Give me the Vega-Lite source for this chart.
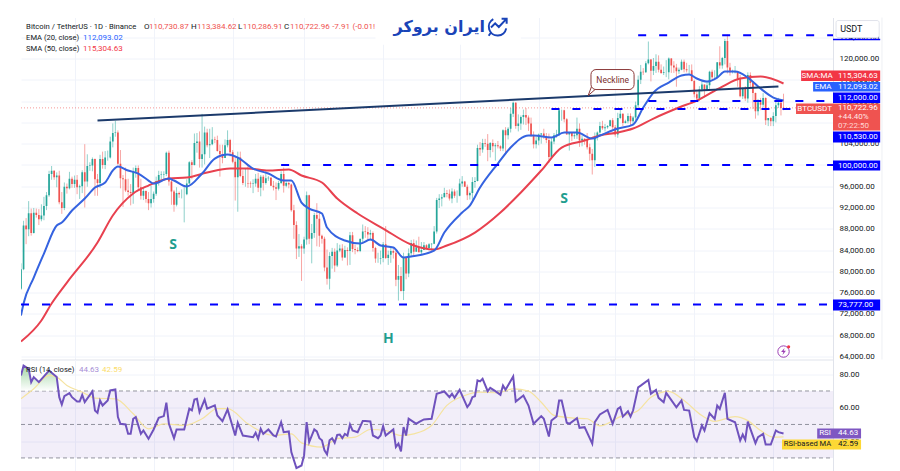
{
"$schema":"https://vega.github.io/schema/vega-lite/v6.json",
"padding":{"left":20,"top":14.5,"right":0,"bottom":0},
"background":"white",
"spacing":0,
"bounds":"flush",
"config":{"view":{"stroke":null},"text":{"font":"Roboto","fontSize":8,"align":"left","baseline":"middle","color":"#131722"},"axis":{"labelFont":"Roboto","labelFontSize":8,"labelColor":"#131722","gridColor":"#f0f3fa","domainColor":"#e0e3eb","ticks":false,"title":null}},
"datasets":{
"candles":[
{"d":0,"o":76700,"h":81500,"l":76500,"c":80400},{"d":1,"o":80400,"h":89500,"l":80200,"c":88600},{"d":2,"o":88600,"h":90000,"l":85100,"c":87900},{"d":3,"o":87900,"h":93200,"l":86600,"c":90900},{"d":4,"o":90900,"h":91800,"l":86700,"c":87200},{"d":5,"o":87200,"h":91900,"l":87100,"c":91000},{"d":6,"o":91000,"h":91800,"l":90100,"c":90600},{"d":7,"o":90600,"h":91700,"l":88700,"c":89800},{"d":8,"o":89800,"h":92600,"l":89400,"c":90500},{"d":9,"o":90500,"h":94000,"l":89600,"c":92300},
{"d":10,"o":92300,"h":94900,"l":91500,"c":94300},{"d":11,"o":94300,"h":98900,"l":94000,"c":98300},{"d":12,"o":98300,"h":99800,"l":97200,"c":98900},{"d":13,"o":98900,"h":99000,"l":97200,"c":97700},{"d":14,"o":97700,"h":98600,"l":95800,"c":98000},{"d":15,"o":98000,"h":98900,"l":92600,"c":93000},{"d":16,"o":93000,"h":94900,"l":90800,"c":91900},{"d":17,"o":91900,"h":96700,"l":91500,"c":95900},{"d":18,"o":95900,"h":96500,"l":94600,"c":95600},{"d":19,"o":95600,"h":98700,"l":95400,"c":97400},
{"d":20,"o":97400,"h":97800,"l":95700,"c":96400},{"d":21,"o":96400,"h":98000,"l":95700,"c":97200},{"d":22,"o":97200,"h":98100,"l":94500,"c":95800},{"d":23,"o":95800,"h":96300,"l":93600,"c":96000},{"d":24,"o":96000,"h":99000,"l":94700,"c":98600},{"d":25,"o":98600,"h":103900,"l":92000,"c":96900},{"d":26,"o":96900,"h":102000,"l":95900,"c":99800},{"d":27,"o":99800,"h":100500,"l":98900,"c":99900},{"d":28,"o":99900,"h":101400,"l":98800,"c":101100},{"d":29,"o":101100,"h":101200,"l":94200,"c":97300},
{"d":30,"o":97300,"h":98300,"l":94200,"c":96600},{"d":31,"o":96600,"h":101900,"l":95700,"c":101100},{"d":32,"o":101100,"h":102500,"l":99300,"c":100000},{"d":33,"o":100000,"h":102600,"l":99200,"c":101400},{"d":34,"o":101400,"h":102700,"l":100800,"c":101400},{"d":35,"o":101400,"h":105300,"l":101200,"c":104400},{"d":36,"o":104400,"h":107800,"l":103300,"c":106000},{"d":37,"o":106000,"h":108300,"l":105300,"c":106100},{"d":38,"o":106100,"h":106500,"l":100000,"c":100200},{"d":39,"o":100200,"h":102800,"l":95600,"c":97500},
{"d":40,"o":97500,"h":98100,"l":92100,"c":97300},{"d":41,"o":97300,"h":99500,"l":94900,"c":95200},{"d":42,"o":95200,"h":97400,"l":94200,"c":94900},{"d":43,"o":94900,"h":96400,"l":92400,"c":94700},{"d":44,"o":94700,"h":99500,"l":92700,"c":98700},{"d":45,"o":98700,"h":99900,"l":97600,"c":99400},{"d":46,"o":99400,"h":99900,"l":95100,"c":95800},{"d":47,"o":95800,"h":97400,"l":93500,"c":94200},{"d":48,"o":94200,"h":95700,"l":93400,"c":95100},{"d":49,"o":95100,"h":95200,"l":92900,"c":93600},
{"d":50,"o":93600,"h":94900,"l":91500,"c":92800},{"d":51,"o":92800,"h":96100,"l":92000,"c":93600},{"d":52,"o":93600,"h":95000,"l":92900,"c":94600},{"d":53,"o":94600,"h":97800,"l":94200,"c":97000},{"d":54,"o":97000,"h":98900,"l":96100,"c":98100},{"d":55,"o":98100,"h":98800,"l":97300,"c":98200},{"d":56,"o":98200,"h":98800,"l":97200,"c":98300},{"d":57,"o":98300,"h":102500,"l":97900,"c":102300},{"d":58,"o":102300,"h":102700,"l":96100,"c":96900},{"d":59,"o":96900,"h":97300,"l":92500,"c":95000},
{"d":60,"o":95000,"h":95300,"l":91200,"c":92500},{"d":61,"o":92500,"h":95800,"l":92200,"c":94700},{"d":62,"o":94700,"h":95000,"l":93800,"c":94500},{"d":63,"o":94500,"h":95400,"l":93700,"c":94500},{"d":64,"o":94500,"h":95900,"l":89200,"c":94500},{"d":65,"o":94500,"h":97300,"l":94300,"c":96500},{"d":66,"o":96500,"h":100700,"l":96500,"c":100500},{"d":67,"o":100500,"h":100900,"l":97300,"c":100000},{"d":68,"o":100000,"h":105900,"l":99900,"c":104100},{"d":69,"o":104100,"h":106000,"l":102300,"c":104400},
{"d":70,"o":104400,"h":106300,"l":99500,"c":101100},{"d":71,"o":101100,"h":109600,"l":99500,"c":102000},{"d":72,"o":102000,"h":107200,"l":100100,"c":106100},{"d":73,"o":106100,"h":106800,"l":103300,"c":103700},{"d":74,"o":103700,"h":106800,"l":101300,"c":103900},{"d":75,"o":103900,"h":107100,"l":103700,"c":104800},{"d":76,"o":104800,"h":105300,"l":104100,"c":104700},{"d":77,"o":104700,"h":105500,"l":102500,"c":102600},{"d":78,"o":102600,"h":103800,"l":97800,"c":102000},{"d":79,"o":102000,"h":103800,"l":100300,"c":101300},
{"d":80,"o":101300,"h":104800,"l":101300,"c":103700},{"d":81,"o":103700,"h":106500,"l":103300,"c":104700},{"d":82,"o":104700,"h":104900,"l":101600,"c":102400},{"d":83,"o":102400,"h":102800,"l":100300,"c":100600},{"d":84,"o":100600,"h":101500,"l":93300,"c":97700},{"d":85,"o":97700,"h":102500,"l":91200,"c":101400},{"d":86,"o":101400,"h":102500,"l":97700,"c":97900},{"d":87,"o":97900,"h":99000,"l":96200,"c":96600},{"d":88,"o":96600,"h":99300,"l":95900,"c":96600},{"d":89,"o":96600,"h":100100,"l":95700,"c":96500},
{"d":90,"o":96500,"h":96900,"l":95700,"c":96400},{"d":91,"o":96400,"h":97300,"l":94700,"c":96500},{"d":92,"o":96500,"h":98300,"l":95900,"c":97400},{"d":93,"o":97400,"h":98500,"l":94900,"c":95700},{"d":94,"o":95700,"h":98100,"l":94100,"c":97800},{"d":95,"o":97800,"h":98100,"l":95200,"c":96600},{"d":96,"o":96600,"h":98800,"l":96300,"c":97500},{"d":97,"o":97500,"h":97900,"l":97000,"c":97600},{"d":98,"o":97600,"h":97700,"l":96000,"c":96100},{"d":99,"o":96100,"h":97000,"l":95200,"c":95800},
{"d":100,"o":95800,"h":96700,"l":93400,"c":95500},{"d":101,"o":95500,"h":97000,"l":95200,"c":96600},{"d":102,"o":96600,"h":98800,"l":96400,"c":98300},{"d":103,"o":98300,"h":99500,"l":94800,"c":96100},{"d":104,"o":96100,"h":96900,"l":95800,"c":96600},{"d":105,"o":96600,"h":96800,"l":95600,"c":96300},{"d":106,"o":96300,"h":96500,"l":91200,"c":91500},{"d":107,"o":91500,"h":92500,"l":86100,"c":88700},{"d":108,"o":88700,"h":89400,"l":82300,"c":84300},{"d":109,"o":84300,"h":87000,"l":82700,"c":84700},
{"d":110,"o":84700,"h":85100,"l":78200,"c":84300},{"d":111,"o":84300,"h":86500,"l":83300,"c":86000},{"d":112,"o":86000,"h":95000,"l":85000,"c":94300},{"d":113,"o":94300,"h":94400,"l":85100,"c":86100},{"d":114,"o":86100,"h":88900,"l":81500,"c":87200},{"d":115,"o":87200,"h":91000,"l":86300,"c":90600},{"d":116,"o":90600,"h":92800,"l":84700,"c":89900},{"d":117,"o":89900,"h":91200,"l":84600,"c":86700},{"d":118,"o":86700,"h":86900,"l":85200,"c":86100},{"d":119,"o":86100,"h":86500,"l":80000,"c":80700},
{"d":120,"o":80700,"h":84100,"l":77500,"c":78600},{"d":121,"o":78600,"h":83600,"l":76600,"c":82900},{"d":122,"o":82900,"h":84400,"l":80500,"c":83700},{"d":123,"o":83700,"h":84300,"l":79900,"c":81100},{"d":124,"o":81100,"h":85300,"l":80800,"c":83900},{"d":125,"o":83900,"h":85000,"l":83600,"c":84300},{"d":126,"o":84300,"h":85100,"l":82000,"c":82600},{"d":127,"o":82600,"h":84800,"l":82500,"c":84000},{"d":128,"o":84000,"h":84500,"l":81100,"c":83800},{"d":129,"o":83800,"h":87400,"l":81200,"c":86800},
{"d":130,"o":86800,"h":87400,"l":83600,"c":84200},{"d":131,"o":84200,"h":85000,"l":83200,"c":84000},{"d":132,"o":84000,"h":84500,"l":83600,"c":83800},{"d":133,"o":83800,"h":86000,"l":83600,"c":86100},{"d":134,"o":86100,"h":88800,"l":85500,"c":87500},{"d":135,"o":87500,"h":88500,"l":86300,"c":87400},{"d":136,"o":87400,"h":88300,"l":85900,"c":86900},{"d":137,"o":86900,"h":87800,"l":85800,"c":87200},{"d":138,"o":87200,"h":87500,"l":83700,"c":84400},{"d":139,"o":84400,"h":84600,"l":81600,"c":82400},
{"d":140,"o":82400,"h":83500,"l":81600,"c":82400},{"d":141,"o":82400,"h":83900,"l":81300,"c":82500},{"d":142,"o":82500,"h":85500,"l":81700,"c":85100},{"d":143,"o":85100,"h":88500,"l":82300,"c":82500},{"d":144,"o":82500,"h":83900,"l":81200,"c":83100},{"d":145,"o":83100,"h":84700,"l":81600,"c":83800},{"d":146,"o":83800,"h":84200,"l":82400,"c":83500},{"d":147,"o":83500,"h":83800,"l":77200,"c":78400},{"d":148,"o":78400,"h":81200,"l":74500,"c":79100},{"d":149,"o":79100,"h":80800,"l":76200,"c":76300},
{"d":150,"o":76300,"h":83500,"l":74600,"c":82600},{"d":151,"o":82600,"h":82700,"l":78500,"c":79600},{"d":152,"o":79600,"h":84300,"l":78900,"c":83400},{"d":153,"o":83400,"h":85900,"l":82800,"c":85300},{"d":154,"o":85300,"h":86000,"l":83000,"c":83700},{"d":155,"o":83700,"h":85800,"l":83700,"c":84500},{"d":156,"o":84500,"h":86500,"l":83600,"c":83600},{"d":157,"o":83600,"h":85500,"l":83100,"c":84000},{"d":158,"o":84000,"h":85500,"l":84000,"c":84900},{"d":159,"o":84900,"h":85100,"l":84100,"c":84400},
{"d":160,"o":84400,"h":85300,"l":84300,"c":85100},{"d":161,"o":85100,"h":85300,"l":83900,"c":85200},{"d":162,"o":85200,"h":88500,"l":85100,"c":87500},{"d":163,"o":87500,"h":93800,"l":87100,"c":93400},{"d":164,"o":93400,"h":94500,"l":91900,"c":93700},{"d":165,"o":93700,"h":94500,"l":92200,"c":93900},{"d":166,"o":93900,"h":95700,"l":93900,"c":94700},{"d":167,"o":94700,"h":95300,"l":93900,"c":94600},{"d":168,"o":94600,"h":95400,"l":93300,"c":93700},{"d":169,"o":93700,"h":95600,"l":92800,"c":95000},
{"d":170,"o":95000,"h":95400,"l":93800,"c":94200},{"d":171,"o":94200,"h":95200,"l":92900,"c":94200},{"d":172,"o":94200,"h":97400,"l":94100,"c":96500},{"d":173,"o":96500,"h":97900,"l":95900,"c":96900},{"d":174,"o":96900,"h":97000,"l":95900,"c":95900},{"d":175,"o":95900,"h":96300,"l":93400,"c":94300},{"d":176,"o":94300,"h":95000,"l":93500,"c":94700},{"d":177,"o":94700,"h":97700,"l":93300,"c":96800},{"d":178,"o":96800,"h":97700,"l":95700,"c":97000},{"d":179,"o":97000,"h":103800,"l":96900,"c":103200},
{"d":180,"o":103200,"h":104300,"l":101700,"c":102900},{"d":181,"o":102900,"h":104900,"l":102300,"c":104100},{"d":182,"o":104100,"h":104900,"l":103400,"c":104000},{"d":183,"o":104000,"h":105800,"l":100700,"c":102800},{"d":184,"o":102800,"h":104300,"l":101400,"c":104100},{"d":185,"o":104100,"h":104800,"l":102400,"c":103500},{"d":186,"o":103500,"h":104100,"l":100800,"c":103700},{"d":187,"o":103700,"h":104500,"l":103100,"c":103500},{"d":188,"o":103500,"h":103700,"l":102600,"c":103100},{"d":189,"o":103100,"h":106700,"l":102600,"c":106500},
{"d":190,"o":106500,"h":107100,"l":102000,"c":105600},{"d":191,"o":105600,"h":107100,"l":104800,"c":106800},{"d":192,"o":106800,"h":110700,"l":106100,"c":109600},{"d":193,"o":109600,"h":111900,"l":109000,"c":111700},{"d":194,"o":111700,"h":111800,"l":106800,"c":107300},{"d":195,"o":107300,"h":109500,"l":106300,"c":107800},{"d":196,"o":107800,"h":109300,"l":106600,"c":109000},{"d":197,"o":109000,"h":110400,"l":107600,"c":109400},{"d":198,"o":109400,"h":110700,"l":107500,"c":108900},{"d":199,"o":108900,"h":109300,"l":106400,"c":107800},
{"d":200,"o":107800,"h":108900,"l":105300,"c":105600},{"d":201,"o":105600,"h":106300,"l":103100,"c":103900},{"d":202,"o":103900,"h":105300,"l":103100,"c":104600},{"d":203,"o":104600,"h":105900,"l":103700,"c":105700},{"d":204,"o":105700,"h":106000,"l":104000,"c":105900},{"d":205,"o":105900,"h":106800,"l":104900,"c":105400},{"d":206,"o":105400,"h":106000,"l":104100,"c":104700},{"d":207,"o":104700,"h":105900,"l":100400,"c":101500},{"d":208,"o":101500,"h":105000,"l":101100,"c":104400},{"d":209,"o":104400,"h":106000,"l":103900,"c":105600},
{"d":210,"o":105600,"h":106600,"l":105100,"c":105700},{"d":211,"o":105700,"h":110600,"l":105400,"c":110300},{"d":212,"o":110300,"h":110400,"l":108300,"c":110300},{"d":213,"o":110300,"h":110400,"l":108000,"c":108600},{"d":214,"o":108600,"h":108800,"l":105700,"c":105700},{"d":215,"o":105700,"h":106200,"l":102700,"c":106100},{"d":216,"o":106100,"h":106200,"l":104500,"c":105400},{"d":217,"o":105400,"h":106100,"l":104900,"c":105600},{"d":218,"o":105600,"h":108900,"l":104900,"c":106800},{"d":219,"o":106800,"h":107800,"l":103400,"c":104600},
{"d":220,"o":104600,"h":105600,"l":103500,"c":104900},{"d":221,"o":104900,"h":105000,"l":103800,"c":104700},{"d":222,"o":104700,"h":106000,"l":102900,"c":103300},{"d":223,"o":103300,"h":104000,"l":100800,"c":102100},{"d":224,"o":102100,"h":103000,"l":98200,"c":100900},{"d":225,"o":100900,"h":106100,"l":99600,"c":105300},{"d":226,"o":105300,"h":106300,"l":104600,"c":106100},{"d":227,"o":106100,"h":108100,"l":105900,"c":107300},{"d":228,"o":107300,"h":108300,"l":106600,"c":106900},{"d":229,"o":106900,"h":107700,"l":106300,"c":107100},
{"d":230,"o":107100,"h":107500,"l":106800,"c":107300},{"d":231,"o":107300,"h":108500,"l":107200,"c":108400},{"d":232,"o":108400,"h":108800,"l":106700,"c":107100},{"d":233,"o":107100,"h":107500,"l":105300,"c":105700},{"d":234,"o":105700,"h":109800,"l":105100,"c":108800},{"d":235,"o":108800,"h":110500,"l":108600,"c":109600},{"d":236,"o":109600,"h":109700,"l":107300,"c":107900},{"d":237,"o":107900,"h":108500,"l":107800,"c":108200},{"d":238,"o":108200,"h":109700,"l":107800,"c":109200},{"d":239,"o":109200,"h":109700,"l":107500,"c":108200},
{"d":240,"o":108200,"h":109200,"l":107500,"c":108900},{"d":241,"o":108900,"h":111900,"l":108400,"c":111200},{"d":242,"o":111200,"h":116800,"l":110600,"c":116000},{"d":243,"o":116000,"h":118800,"l":115200,"c":117500},{"d":244,"o":117500,"h":118200,"l":116900,"c":117400},{"d":245,"o":117400,"h":119500,"l":117300,"c":119100},{"d":246,"o":119100,"h":123200,"l":118900,"c":119800},{"d":247,"o":119800,"h":119900,"l":115700,"c":117700},{"d":248,"o":117700,"h":120100,"l":116900,"c":118600},{"d":249,"o":118600,"h":120800,"l":117300,"c":119400},
{"d":250,"o":119400,"h":120600,"l":117400,"c":117900},{"d":251,"o":117900,"h":118900,"l":117100,"c":117300},{"d":252,"o":117300,"h":118500,"l":116900,"c":117400},{"d":253,"o":117400,"h":119700,"l":116500,"c":117400},{"d":254,"o":117400,"h":120200,"l":116100,"c":120000},{"d":255,"o":120000,"h":120100,"l":117300,"c":118700},{"d":256,"o":118700,"h":119500,"l":117300,"c":118300},{"d":257,"o":118300,"h":119000,"l":114700,"c":117600},{"d":258,"o":117600,"h":118300,"l":117100,"c":117900},{"d":259,"o":117900,"h":119800,"l":117800,"c":119400},
{"d":260,"o":119400,"h":119800,"l":117400,"c":118000},{"d":261,"o":118000,"h":119200,"l":117400,"c":117800},{"d":262,"o":117800,"h":118800,"l":116900,"c":117800},{"d":263,"o":117800,"h":118900,"l":115700,"c":115800},{"d":264,"o":115800,"h":116000,"l":112700,"c":113300},{"d":265,"o":113300,"h":114000,"l":112000,"c":112500},{"d":266,"o":112500,"h":114800,"l":112000,"c":114200},{"d":267,"o":114200,"h":115700,"l":113800,"c":115100},{"d":268,"o":115100,"h":115100,"l":112700,"c":114100},{"d":269,"o":114100,"h":115700,"l":113900,"c":115000},
{"d":270,"o":115000,"h":117700,"l":114300,"c":117500},{"d":271,"o":117500,"h":117900,"l":115900,"c":116500},{"d":272,"o":116500,"h":117800,"l":116200,"c":116500},{"d":273,"o":116500,"h":119300,"l":116500,"c":119300},{"d":274,"o":119300,"h":122300,"l":118100,"c":118700},{"d":275,"o":118700,"h":120300,"l":118100,"c":120100},{"d":276,"o":120100,"h":123700,"l":118900,"c":123300},{"d":277,"o":123300,"h":124500,"l":117200,"c":118300},{"d":278,"o":118300,"h":119200,"l":116800,"c":117400},{"d":279,"o":117400,"h":117900,"l":117200,"c":117400},
{"d":280,"o":117400,"h":118600,"l":117200,"c":117500},{"d":281,"o":117500,"h":117600,"l":114700,"c":116200},{"d":282,"o":116200,"h":116900,"l":112700,"c":112900},{"d":283,"o":112900,"h":114600,"l":112400,"c":114300},{"d":284,"o":114300,"h":114800,"l":112000,"c":112500},{"d":285,"o":112500,"h":117400,"l":111700,"c":116900},{"d":286,"o":116900,"h":117400,"l":114500,"c":115400},{"d":287,"o":115400,"h":115700,"l":110500,"c":113500},{"d":288,"o":113500,"h":113600,"l":108700,"c":110100},{"d":289,"o":110100,"h":112400,"l":109300,"c":111800},
{"d":290,"o":111800,"h":112600,"l":110300,"c":111300},{"d":291,"o":111300,"h":113500,"l":110800,"c":112600},{"d":292,"o":112600,"h":112700,"l":107500,"c":108400},{"d":293,"o":108400,"h":108800,"l":107300,"c":108800},{"d":294,"o":108800,"h":109000,"l":107300,"c":108200},{"d":295,"o":108200,"h":109900,"l":107300,"c":109200},{"d":296,"o":109200,"h":112000,"l":108000,"c":111200},{"d":297,"o":111200,"h":112600,"l":110700,"c":111700},{"d":298,"o":111700,"h":112200,"l":109300,"c":110700},{"d":299,"o":110731,"h":113385,"l":110287,"c":110723}
],
"ema":[{"d":0,"v":71684},{"d":1,"v":73940},{"d":5,"v":78828},{"d":9,"v":83340},{"d":14,"v":88604},{"d":16,"v":89168},{"d":20,"v":91424},{"d":25,"v":93680},{"d":29,"v":95748},{"d":33,"v":96688},{"d":36,"v":98944},{"d":38,"v":99696},{"d":42,"v":98944},{"d":46,"v":98380},{"d":50,"v":97064},{"d":52,"v":96500},{"d":58,"v":97440},{"d":60,"v":97064},{"d":65,"v":95936},{"d":71,"v":98380},{"d":76,"v":101200},{"d":81,"v":101952},{"d":85,"v":101388},{"d":91,"v":99320},{"d":97,"v":98380},{"d":103,"v":97064},{"d":106,"v":97064},{"d":110,"v":92928},{"d":113,"v":91800},{"d":118,"v":90860},{"d":120,"v":88228},{"d":127,"v":85784},{"d":133,"v":85220},{"d":137,"v":85972},{"d":141,"v":84844},{"d":146,"v":84468},{"d":150,"v":82588},{"d":153,"v":82776},{"d":162,"v":83904},{"d":166,"v":87288},{"d":173,"v":91048},{"d":176,"v":92364},{"d":180,"v":95748},{"d":187,"v":100260},{"d":192,"v":103268},{"d":199,"v":105524},{"d":201,"v":105524},{"d":208,"v":105148},{"d":213,"v":106088},{"d":218,"v":106088},{"d":224,"v":104960},{"d":227,"v":105524},{"d":234,"v":106840},{"d":240,"v":107592},{"d":244,"v":110788},{"d":248,"v":113608},{"d":254,"v":115488},{"d":259,"v":116804},{"d":262,"v":117000},{"d":265,"v":116240},{"d":269,"v":115676},{"d":273,"v":116428},{"d":276,"v":117556},{"d":280,"v":117556},{"d":285,"v":116428},{"d":290,"v":114360},{"d":295,"v":112668},{"d":299,"v":112093}],
"sma":[{"d":0,"v":66796},{"d":8,"v":70744},{"d":12,"v":73940},{"d":18,"v":77888},{"d":30,"v":85408},{"d":36,"v":90484},{"d":44,"v":94620},{"d":50,"v":96124},{"d":58,"v":97440},{"d":65,"v":97628},{"d":73,"v":98568},{"d":82,"v":99320},{"d":89,"v":99320},{"d":97,"v":98944},{"d":105,"v":99132},{"d":110,"v":98004},{"d":118,"v":96688},{"d":124,"v":93680},{"d":132,"v":90860},{"d":142,"v":88040},{"d":153,"v":85032},{"d":162,"v":84092},{"d":167,"v":84844},{"d":178,"v":87288},{"d":188,"v":91048},{"d":196,"v":94808},{"d":204,"v":98944},{"d":212,"v":103268},{"d":221,"v":104584},{"d":227,"v":105524},{"d":234,"v":106088},{"d":240,"v":106840},{"d":248,"v":108720},{"d":258,"v":110788},{"d":265,"v":112104},{"d":275,"v":114736},{"d":282,"v":116240},{"d":290,"v":116616},{"d":299,"v":115304}],
"neckline":[{"d":30,"v":108344},{"d":297,"v":114736}],
"levels":[{"v":124400,"from":242,"to":318.4},{"v":112000,"from":246,"to":318.4},{"v":110530,"from":208,"to":318.4},{"v":100000,"from":102,"to":318.4},{"v":73777,"from":0,"to":318.4}],
"patterns":[{"d":59.6,"v":85032,"t":"S"},{"d":213,"v":93680,"t":"S"},{"d":144,"v":67360,"t":"H"}],
"callout":[{"d":224,"v":115100,"i":0},{"d":222.4,"v":113044,"i":1},{"d":226,"v":114548,"i":2}],
"rsi":[{"d":0,"v":79.3},{"d":1,"v":85.2},{"d":3,"v":83.2},{"d":4,"v":75.3},{"d":5,"v":78.3},{"d":7,"v":75.3},{"d":11,"v":82.2},{"d":14,"v":78.3},{"d":15,"v":66.3},{"d":16,"v":61.9},{"d":17,"v":66.9},{"d":19,"v":68.7},{"d":20,"v":66.3},{"d":22,"v":63.7},{"d":23,"v":63.7},{"d":24,"v":67.7},{"d":25,"v":63.3},{"d":28,"v":69.7},{"d":29,"v":58.4},{"d":30,"v":57},{"d":31,"v":64.3},{"d":32,"v":61.3},{"d":34,"v":64.3},{"d":35,"v":70.3},{"d":37,"v":70.9},{"d":38,"v":54.4},{"d":39,"v":50.4},{"d":41,"v":50},{"d":42,"v":44.4},{"d":43,"v":44.4},{"d":44,"v":53.4},{"d":45,"v":54.4},{"d":47,"v":44.4},{"d":48,"v":46.4},{"d":50,"v":41.4},{"d":52,"v":47},{"d":54,"v":54},{"d":56,"v":55},{"d":57,"v":63},{"d":58,"v":50.4},{"d":60,"v":41.8},{"d":61,"v":47},{"d":64,"v":47},{"d":66,"v":59.4},{"d":67,"v":58.4},{"d":68,"v":64.9},{"d":69,"v":65.3},{"d":70,"v":57.4},{"d":72,"v":64.9},{"d":73,"v":59.4},{"d":76,"v":61.4},{"d":77,"v":55.4},{"d":79,"v":52},{"d":81,"v":59},{"d":84,"v":43.4},{"d":85,"v":51},{"d":87,"v":43.4},{"d":91,"v":42.4},{"d":92,"v":45},{"d":93,"v":41.4},{"d":94,"v":47.4},{"d":95,"v":44.4},{"d":97,"v":47},{"d":99,"v":43.4},{"d":100,"v":42.8},{"d":102,"v":51.4},{"d":103,"v":45.4},{"d":105,"v":45.8},{"d":106,"v":33.5},{"d":108,"v":23.9},{"d":110,"v":25.5},{"d":111,"v":31.5},{"d":112,"v":51.4},{"d":113,"v":39.5},{"d":115,"v":47},{"d":116,"v":45.8},{"d":117,"v":41.8},{"d":118,"v":40.5},{"d":119,"v":34.5},{"d":120,"v":32.1},{"d":121,"v":40.5},{"d":122,"v":41.8},{"d":123,"v":39.1},{"d":124,"v":43.8},{"d":125,"v":44},{"d":126,"v":41.8},{"d":127,"v":44.4},{"d":128,"v":43.4},{"d":129,"v":50},{"d":130,"v":46.4},{"d":132,"v":45.4},{"d":134,"v":52},{"d":135,"v":52},{"d":137,"v":51.8},{"d":138,"v":43.4},{"d":140,"v":41.8},{"d":141,"v":43.4},{"d":142,"v":49},{"d":143,"v":43.4},{"d":146,"v":47},{"d":147,"v":36.5},{"d":148,"v":38.5},{"d":149,"v":33.9},{"d":150,"v":48.4},{"d":151,"v":43.4},{"d":152,"v":53.4},{"d":154,"v":51.4},{"d":155,"v":50.4},{"d":156,"v":51.4},{"d":158,"v":53},{"d":161,"v":53.4},{"d":163,"v":68.3},{"d":166,"v":69.7},{"d":168,"v":66.3},{"d":169,"v":68.3},{"d":170,"v":65.9},{"d":172,"v":70.7},{"d":175,"v":60.4},{"d":176,"v":62.4},{"d":177,"v":66.3},{"d":178,"v":66.9},{"d":179,"v":76.3},{"d":180,"v":75.7},{"d":181,"v":77.3},{"d":183,"v":69.9},{"d":184,"v":71.9},{"d":186,"v":69.9},{"d":188,"v":67.7},{"d":189,"v":73.3},{"d":190,"v":70.7},{"d":193,"v":78.7},{"d":194,"v":63.7},{"d":197,"v":67.3},{"d":199,"v":61.3},{"d":201,"v":50.4},{"d":204,"v":55},{"d":205,"v":53.4},{"d":207,"v":42.8},{"d":208,"v":52.4},{"d":210,"v":54.8},{"d":211,"v":64.3},{"d":212,"v":64.3},{"d":214,"v":51},{"d":215,"v":50.4},{"d":218,"v":53.8},{"d":219,"v":48},{"d":221,"v":48.4},{"d":224,"v":38.5},{"d":225,"v":51.4},{"d":227,"v":56},{"d":230,"v":58.7},{"d":232,"v":50.4},{"d":234,"v":59.3},{"d":235,"v":60.3},{"d":236,"v":54.7},{"d":238,"v":57.9},{"d":239,"v":54.7},{"d":240,"v":58.3},{"d":242,"v":72.2},{"d":243,"v":73.2},{"d":246,"v":76.6},{"d":247,"v":68.3},{"d":249,"v":70.6},{"d":250,"v":65.9},{"d":252,"v":63.3},{"d":253,"v":68.9},{"d":257,"v":60.3},{"d":259,"v":64.3},{"d":260,"v":58.7},{"d":262,"v":58.3},{"d":264,"v":42.4},{"d":265,"v":40},{"d":267,"v":49.4},{"d":268,"v":46.4},{"d":270,"v":56.7},{"d":272,"v":53.3},{"d":273,"v":61.3},{"d":274,"v":59.3},{"d":276,"v":68.9},{"d":277,"v":53.3},{"d":280,"v":51.3},{"d":282,"v":40.4},{"d":283,"v":44},{"d":284,"v":40.8},{"d":285,"v":51.7},{"d":286,"v":47.4},{"d":288,"v":38.8},{"d":289,"v":42.4},{"d":291,"v":44.4},{"d":292,"v":38},{"d":294,"v":38},{"d":296,"v":46.4},{"d":297,"v":45.4},{"d":299,"v":44.63}],
"rsima":[{"d":0,"v":65.3},{"d":5,"v":71.3},{"d":11,"v":79.3},{"d":14,"v":78.3},{"d":18,"v":73.3},{"d":24,"v":69.3},{"d":29,"v":65.7},{"d":37,"v":65.3},{"d":44,"v":56.4},{"d":50,"v":47.4},{"d":56,"v":50.4},{"d":64,"v":49.4},{"d":71,"v":53.4},{"d":77,"v":59.4},{"d":81,"v":59.4},{"d":89,"v":50.4},{"d":99,"v":43.4},{"d":106,"v":44.4},{"d":110,"v":39},{"d":118,"v":36.5},{"d":124,"v":41.5},{"d":131,"v":42.4},{"d":137,"v":47},{"d":143,"v":46.4},{"d":149,"v":43.4},{"d":154,"v":44.4},{"d":161,"v":49.4},{"d":167,"v":61.4},{"d":174,"v":67.3},{"d":180,"v":69.3},{"d":187,"v":68.9},{"d":193,"v":71.3},{"d":199,"v":69.9},{"d":204,"v":63.3},{"d":209,"v":55.4},{"d":217,"v":53.8},{"d":222,"v":53.4},{"d":227,"v":49.2},{"d":235,"v":54.7},{"d":242,"v":58.3},{"d":247,"v":66.3},{"d":254,"v":69.8},{"d":260,"v":64.3},{"d":267,"v":55.3},{"d":272,"v":51.9},{"d":280,"v":54.7},{"d":285,"v":52.3},{"d":290,"v":46.4},{"d":295,"v":42.4},{"d":299,"v":42.59}],
"rsibands":[{"v":70},{"v":50},{"v":30}]
},
"vconcat":[
{"width":812,"height":342,
"data":{"values":[{}]},
"encoding":{"x":{"type":"quantitative","scale":{"domain":[0,318.4],"nice":false,"zero":false,"padding":0},"axis":{"grid":true,"values":[21,52,83,111,142,172,203,233,264,295],"labels":false,"domain":true,"labelPadding":0,"minExtent":0,"maxExtent":0}},
"y":{"type":"quantitative","scale":{"domain":[63420,127716],"nice":false,"zero":false,"padding":0},"axis":{"orient":"right","values":[64000,68000,72000,76000,80000,84000,88000,92000,96000,100000,104000,108000,112000,116000,120000,124000],"format":",.2f","labelPadding":6,"grid":true}}},
"layer":[
{"mark":{"type":"rect","color":"white"},"encoding":{"x":{"datum":139},"x2":{"datum":196},"y":{"datum":127716},"y2":{"datum":122600}}},
{"data":{"name":"candles"},"mark":{"type":"rule","strokeWidth":0.8,"opacity":0.65,"clip":true},"encoding":{"x":{"field":"d"},"y":{"field":"l"},"y2":{"field":"h"},"color":{"condition":{"test":"datum.c>=datum.o","value":"#26a69a"},"value":"#ef5350"}}},
{"data":{"name":"candles"},"mark":{"type":"bar","size":1.7,"clip":true},"encoding":{"x":{"field":"d"},"y":{"field":"o"},"y2":{"field":"c"},"color":{"condition":{"test":"datum.c>=datum.o","value":"#26a69a"},"value":"#ef5350"}}},
{"mark":{"type":"rule","color":"#ef5350","strokeWidth":1,"strokeDash":[1,2],"opacity":0.6},"encoding":{"x":{"datum":0},"x2":{"datum":318.4},"y":{"datum":110723}}},
{"data":{"name":"sma"},"mark":{"type":"line","color":"#e8414f","strokeWidth":2,"interpolate":"monotone","clip":true},"encoding":{"x":{"field":"d"},"y":{"field":"v"}}},
{"data":{"name":"ema"},"mark":{"type":"line","color":"#3563e0","strokeWidth":2,"interpolate":"monotone","clip":true},"encoding":{"x":{"field":"d"},"y":{"field":"v"}}},
{"data":{"name":"levels"},"mark":{"type":"rule","color":"#0000ff","strokeWidth":2,"strokeDash":[8,13]},"encoding":{"x":{"field":"from"},"x2":{"field":"to"},"y":{"field":"v"}}},
{"data":{"name":"neckline"},"mark":{"type":"line","color":"#1b3a6b","strokeWidth":2},"encoding":{"x":{"field":"d"},"y":{"field":"v"}}},
{"data":{"name":"callout"},"mark":{"type":"line","color":"#8c3a3a","strokeWidth":1,"fill":"white"},"encoding":{"x":{"field":"d"},"y":{"field":"v"},"order":{"field":"i"}}},
{"mark":{"type":"rect","fill":"white","stroke":"#8c3a3a","strokeWidth":1,"cornerRadius":5},"encoding":{"x":{"datum":223.5},"x2":{"datum":240.4},"y":{"datum":117932},"y2":{"datum":114172}}},
{"mark":{"type":"text","align":"center","color":"#7a2e2e","fontSize":8.5},"encoding":{"x":{"datum":232},"y":{"datum":116052},"text":{"value":"Neckline"}}},
{"data":{"name":"patterns"},"mark":{"type":"text","align":"center","fontSize":14,"fontWeight":"bold","font":"Open Sans","color":"#1f9e8f"},"encoding":{"x":{"field":"d"},"y":{"field":"v"},"text":{"field":"t"}}},
{"mark":{"type":"text","align":"center","font":"DejaVu Sans","fontSize":16,"fontWeight":"bold","color":"#1a44b8"},"encoding":{"x":{"datum":164},"y":{"datum":126016},"text":{"value":"ایران بروکر"}}},
{"mark":{"type":"point","shape":"M-0.5,-0.8A0.95,0.95 0 1 0 0.9,0.2M-0.75,0.65L-1,1M-0.75,0.1L-0.3,-0.35L0.1,0.05L0.9,-0.8M0.4,-0.85H0.95V-0.3","size":340,"filled":false,"color":"#1a44b8","strokeWidth":2,"opacity":1},"encoding":{"x":{"datum":187},"y":{"datum":126016}}},
{"mark":{"type":"text","fontSize":7.7},"encoding":{"x":{"datum":2},"y":{"datum":126016},"text":{"value":"Bitcoin / TetherUS · 1D · Binance"}}},
{"mark":{"type":"text"},"encoding":{"x":{"datum":48.2},"y":{"datum":126016},"text":{"value":"O"}}},
{"mark":{"type":"text","color":"#ef5350"},"encoding":{"x":{"datum":50.2},"y":{"datum":126016},"text":{"value":"110,730.87"}}},
{"mark":{"type":"text"},"encoding":{"x":{"datum":66.7},"y":{"datum":126016},"text":{"value":"H"}}},
{"mark":{"type":"text","color":"#ef5350"},"encoding":{"x":{"datum":69},"y":{"datum":126016},"text":{"value":"113,384.62"}}},
{"mark":{"type":"text"},"encoding":{"x":{"datum":85.1},"y":{"datum":126016},"text":{"value":"L"}}},
{"mark":{"type":"text","color":"#ef5350"},"encoding":{"x":{"datum":87},"y":{"datum":126016},"text":{"value":"110,286.91"}}},
{"mark":{"type":"text"},"encoding":{"x":{"datum":103.1},"y":{"datum":126016},"text":{"value":"C"}}},
{"mark":{"type":"text","color":"#ef5350"},"encoding":{"x":{"datum":105.5},"y":{"datum":126016},"text":{"value":"110,722.96"}}},
{"mark":{"type":"text","color":"#ef5350"},"encoding":{"x":{"datum":122},"y":{"datum":126016},"text":{"value":"-7.91"}}},
{"mark":{"type":"text","color":"#ef5350"},"encoding":{"x":{"datum":130},"y":{"datum":126016},"text":{"value":"(-0.01!"}}},
{"mark":{"type":"text","fontSize":7.6},"encoding":{"x":{"datum":2},"y":{"datum":123948},"text":{"value":"EMA (20, close)"}}},
{"mark":{"type":"text","color":"#2962ff"},"encoding":{"x":{"datum":24.3},"y":{"datum":123948},"text":{"value":"112,093.02"}}},
{"mark":{"type":"text","fontSize":7.6},"encoding":{"x":{"datum":2},"y":{"datum":121880},"text":{"value":"SMA (50, close)"}}},
{"mark":{"type":"text","color":"#f23645"},"encoding":{"x":{"datum":24.3},"y":{"datum":121880},"text":{"value":"115,304.63"}}},
{"mark":{"type":"rect","fill":"white","stroke":"#e0e3eb","cornerRadius":2},"encoding":{"x":{"datum":319.6},"x2":{"datum":336.5},"y":{"datum":127144},"y2":{"datum":123948}}},
{"mark":{"type":"text","fontSize":9},"encoding":{"x":{"datum":321.2},"y":{"datum":125500},"text":{"value":"USDT"}}},
{"mark":{"type":"rule","color":"#0000ff","strokeWidth":1.5},"encoding":{"x":{"datum":318.4},"x2":{"datum":336.9},"y":{"datum":123572}}},
{"mark":{"type":"rule","color":"#eef0f5"},"encoding":{"x":{"datum":337.6},"y":{"datum":63420},"y2":{"datum":127716}}},
{"mark":{"type":"rect","color":"#f23645"},"encoding":{"x":{"datum":305.9},"x2":{"datum":336.9},"y":{"datum":117744},"y2":{"datum":115770}}},
{"mark":{"type":"rect","color":"#2962ff"},"encoding":{"x":{"datum":310.6},"x2":{"datum":336.9},"y":{"datum":115582},"y2":{"datum":113796}}},
{"mark":{"type":"rect","color":"#0000ff"},"encoding":{"x":{"datum":318.4},"x2":{"datum":336.9},"y":{"datum":113608},"y2":{"datum":111634}}},
{"mark":{"type":"rect","color":"#ef5350"},"encoding":{"x":{"datum":303.9},"x2":{"datum":318.4},"y":{"datum":111540},"y2":{"datum":109570}}},
{"mark":{"type":"rect","color":"#ef5350"},"encoding":{"x":{"datum":318.4},"x2":{"datum":336.9},"y":{"datum":111540},"y2":{"datum":106464}}},
{"mark":{"type":"rect","color":"#0000ff"},"encoding":{"x":{"datum":318.4},"x2":{"datum":336.9},"y":{"datum":106276},"y2":{"datum":104208}}},
{"mark":{"type":"rect","color":"#0000ff"},"encoding":{"x":{"datum":318.4},"x2":{"datum":336.9},"y":{"datum":100824},"y2":{"datum":98944}}},
{"mark":{"type":"rect","color":"#0000ff"},"encoding":{"x":{"datum":318.4},"x2":{"datum":336.9},"y":{"datum":74692},"y2":{"datum":72624}}},
{"mark":{"type":"text","color":"white","align":"center"},"encoding":{"x":{"datum":312.2},"y":{"datum":116757},"text":{"value":"SMA:MA"}}},
{"mark":{"type":"text","color":"white"},"encoding":{"x":{"datum":320.4},"y":{"datum":116757},"text":{"value":"115,304.63"}}},
{"mark":{"type":"text","color":"white","align":"center"},"encoding":{"x":{"datum":314.5},"y":{"datum":114690},"text":{"value":"EMA"}}},
{"mark":{"type":"text","color":"white"},"encoding":{"x":{"datum":320.4},"y":{"datum":114690},"text":{"value":"112,093.02"}}},
{"mark":{"type":"text","color":"white"},"encoding":{"x":{"datum":320.4},"y":{"datum":112621},"text":{"value":"112,000.00"}}},
{"mark":{"type":"text","color":"white","align":"center"},"encoding":{"x":{"datum":311.2},"y":{"datum":110555},"text":{"value":"BTCUSDT"}}},
{"mark":{"type":"text","color":"white"},"encoding":{"x":{"datum":320.4},"y":{"datum":110694},"text":{"value":"110,722.96"}}},
{"mark":{"type":"text","color":"#ffe5e3"},"encoding":{"x":{"datum":320.4},"y":{"datum":109002},"text":{"value":"+44.40%"}}},
{"mark":{"type":"text","color":"#ffd5d2"},"encoding":{"x":{"datum":320.4},"y":{"datum":107404},"text":{"value":"07:22:50"}}},
{"mark":{"type":"text","color":"white"},"encoding":{"x":{"datum":320.4},"y":{"datum":105242},"text":{"value":"110,530.00"}}},
{"mark":{"type":"text","color":"white"},"encoding":{"x":{"datum":320.4},"y":{"datum":99884},"text":{"value":"100,000.00"}}},
{"mark":{"type":"text","color":"white"},"encoding":{"x":{"datum":320.4},"y":{"datum":73658},"text":{"value":"73,777.00"}}},
{"mark":{"type":"point","filled":false,"color":"#9c3fb5","size":130,"strokeWidth":1,"opacity":1},"encoding":{"x":{"datum":299},"y":{"datum":64916}}},
{"mark":{"type":"point","shape":"M0.3,-1L-0.7,0.15H-0.05L-0.3,1L0.7,-0.2H0.05Z","filled":true,"color":"#9c3fb5","size":49,"opacity":1},"encoding":{"x":{"datum":299},"y":{"datum":64916}}},
{"mark":{"type":"point","shape":"circle","filled":true,"color":"#f23645","size":10,"opacity":1},"encoding":{"x":{"datum":301},"y":{"datum":65800}}}
]},
{"width":812,"height":112,
"data":{"values":[{}]},
"encoding":{"x":{"type":"quantitative","scale":{"domain":[0,318.4],"nice":false,"zero":false,"padding":0},"axis":{"grid":true,"values":[21,52,83,111,142,172,203,233,264,295],"labels":false,"domain":false}},
"y":{"type":"quantitative","scale":{"domain":[21.9,88.8],"nice":false,"zero":false},"axis":{"orient":"right","values":[40,60,80],"format":".2f","labelPadding":6,"grid":true}}},
"layer":[
{"mark":{"type":"rect","color":"#7e57c2","opacity":0.1},"encoding":{"x":{"datum":0},"x2":{"datum":318.4},"y":{"datum":30},"y2":{"datum":70}}},
{"data":{"name":"rsibands"},"mark":{"type":"rule","color":"#787b86","strokeWidth":0.8,"strokeDash":[4,3]},"encoding":{"x":{"datum":0},"x2":{"datum":318.4},"y":{"field":"v"}}},
{"data":{"name":"rsi"},"transform":[{"filter":"datum.d<=14"}],"mark":{"type":"area","clip":true,"opacity":0.6,"color":{"x1":0,"y1":0,"x2":0,"y2":1,"gradient":"linear","stops":[{"offset":0,"color":"#66bb6a"},{"offset":1,"color":"#ffffff"}]}},"encoding":{"x":{"field":"d"},"y":{"field":"v"},"y2":{"datum":70}}},
{"data":{"name":"rsima"},"mark":{"type":"line","color":"#f5e3a0","strokeWidth":1.2,"interpolate":"monotone","clip":true},"encoding":{"x":{"field":"d"},"y":{"field":"v"}}},
{"data":{"name":"rsi"},"mark":{"type":"line","color":"#6f52bd","strokeWidth":2,"clip":true},"encoding":{"x":{"field":"d"},"y":{"field":"v"}}},
{"mark":{"type":"text","fontSize":7.6},"encoding":{"x":{"datum":2},"y":{"datum":82.8},"text":{"value":"RSI (14, close)"}}},
{"mark":{"type":"text","color":"#a78fd6"},"encoding":{"x":{"datum":22.7},"y":{"datum":82.8},"text":{"value":"44.63"}}},
{"mark":{"type":"text","color":"#fbdc6a"},"encoding":{"x":{"datum":31.8},"y":{"datum":82.8},"text":{"value":"42.59"}}},
{"mark":{"type":"rect","color":"#7e57c2"},"encoding":{"x":{"datum":312.2},"x2":{"datum":329.4},"y":{"datum":47.6},"y2":{"datum":41.6}}},
{"mark":{"type":"rect","color":"#fdd835"},"encoding":{"x":{"datum":298.4},"x2":{"datum":329.4},"y":{"datum":41},"y2":{"datum":35.1}}},
{"mark":{"type":"text","color":"white","align":"center"},"encoding":{"x":{"datum":315.3},"y":{"datum":44.6},"text":{"value":"RSI"}}},
{"mark":{"type":"text","color":"white"},"encoding":{"x":{"datum":320.4},"y":{"datum":44.6},"text":{"value":"44.63"}}},
{"mark":{"type":"text","align":"center","fontSize":7.6},"encoding":{"x":{"datum":308.4},"y":{"datum":38.1},"text":{"value":"RSI-based MA"}}},
{"mark":{"type":"text"},"encoding":{"x":{"datum":320.4},"y":{"datum":38.1},"text":{"value":"42.59"}}}
]}
]
}
